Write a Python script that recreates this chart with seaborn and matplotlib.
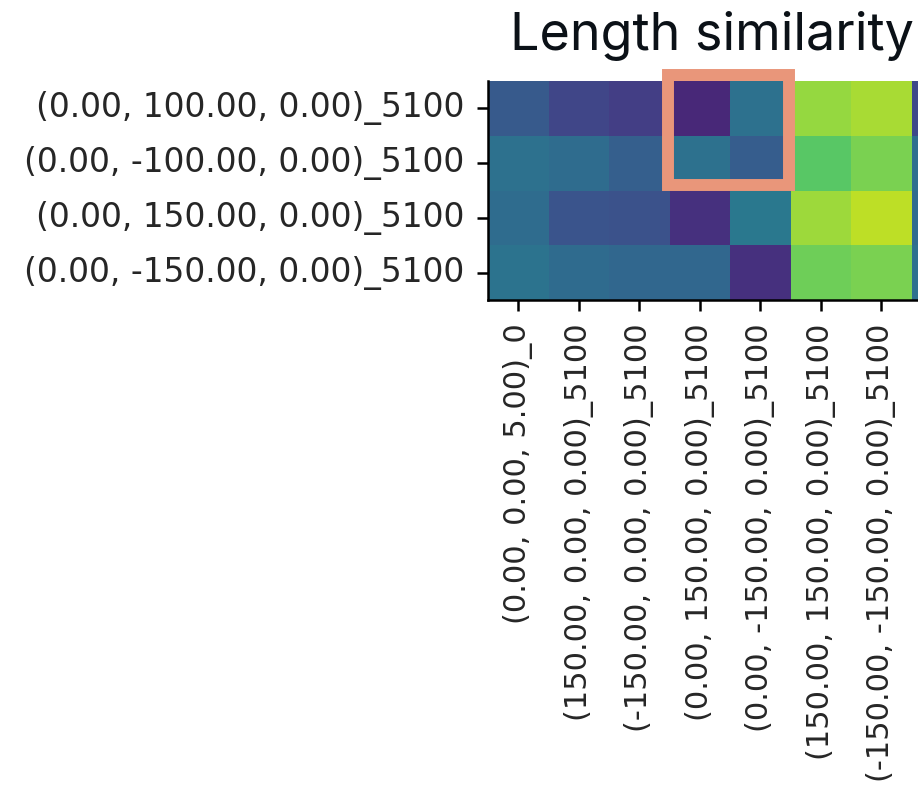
import numpy as np
import pandas as pd
import seaborn as sns
import matplotlib.pyplot as plt
from matplotlib.patches import Rectangle

# Query positions (rows) and reference positions (columns)
row_labels = [
    "(0.00, 100.00, 0.00)_5100",
    "(0.00, -100.00, 0.00)_5100",
    "(0.00, 150.00, 0.00)_5100",
    "(0.00, -150.00, 0.00)_5100",
]
col_labels = [
    "(0.00, 0.00, 5.00)_0",
    "(150.00, 0.00, 0.00)_5100",
    "(-150.00, 0.00, 0.00)_5100",
    "(0.00, 150.00, 0.00)_5100",
    "(0.00, -150.00, 0.00)_5100",
    "(150.00, 150.00, 0.00)_5100",
    "(-150.00, -150.00, 0.00)_5100",
    "(150.00, -150.00, 0.00)_5100",
]

# Length similarity scores, one list per row
sim_p100 = [0.28, 0.21, 0.18, 0.11, 0.37, 0.84, 0.87, 0.22]
sim_m100 = [0.37, 0.35, 0.30, 0.37, 0.29, 0.74, 0.80, 0.36]
sim_p150 = [0.35, 0.26, 0.25, 0.14, 0.40, 0.855, 0.90, 0.35]
sim_m150 = [0.38, 0.345, 0.33, 0.33, 0.14, 0.78, 0.80, 0.37]

# Block of cells to highlight (rows 0-1, columns 3-4)
hl_rows = (0, 2)
hl_cols = (3, 5)

df = pd.DataFrame([sim_p100, sim_m100, sim_p150, sim_m150],
                  index=row_labels, columns=col_labels)

sns.set_style("ticks")
plt.rcParams["font.family"] = ["DejaVu Sans"]

W, H = 918, 790
fig = plt.figure(figsize=(W / 100, H / 100), dpi=100)
cell_w, cell_h = 60.5, 54.75
left_px, top_px = 488, 81
ax = fig.add_axes([left_px / W, 1 - (top_px + 4 * cell_h) / H,
                   len(col_labels) * cell_w / W, 4 * cell_h / H])

sns.heatmap(df, ax=ax, cmap="viridis", vmin=0, vmax=1, cbar=False)

for side in ["left", "bottom"]:
    ax.spines[side].set_visible(True)
    ax.spines[side].set_color("black")
    ax.spines[side].set_linewidth(1.8)

ax.tick_params(axis="both", length=8, width=1.8, color="black",
               pad=9, labelcolor="#262626")
ax.set_xticklabels(col_labels, rotation=90, fontsize=22)
ax.set_yticklabels(row_labels, rotation=0, fontsize=23.7)
ax.set_xlabel("")
ax.set_ylabel("")

# Highlight frame around the selected block
ax.add_patch(Rectangle((hl_cols[0] - 0.025, hl_rows[0] - 0.11),
                       hl_cols[1] - hl_cols[0], hl_rows[1] - hl_rows[0] + 0.01,
                       fill=False, edgecolor="#E9967A", linewidth=8.6,
                       clip_on=False, zorder=5))

fig.text(712 / W, 1 - 50 / H, "Length similarity", ha="center",
         va="baseline", fontsize=37.5, fontweight="normal",
         family=["Inter", "DejaVu Sans"], color="#0b1117")

fig.savefig("out.png", dpi=100)
